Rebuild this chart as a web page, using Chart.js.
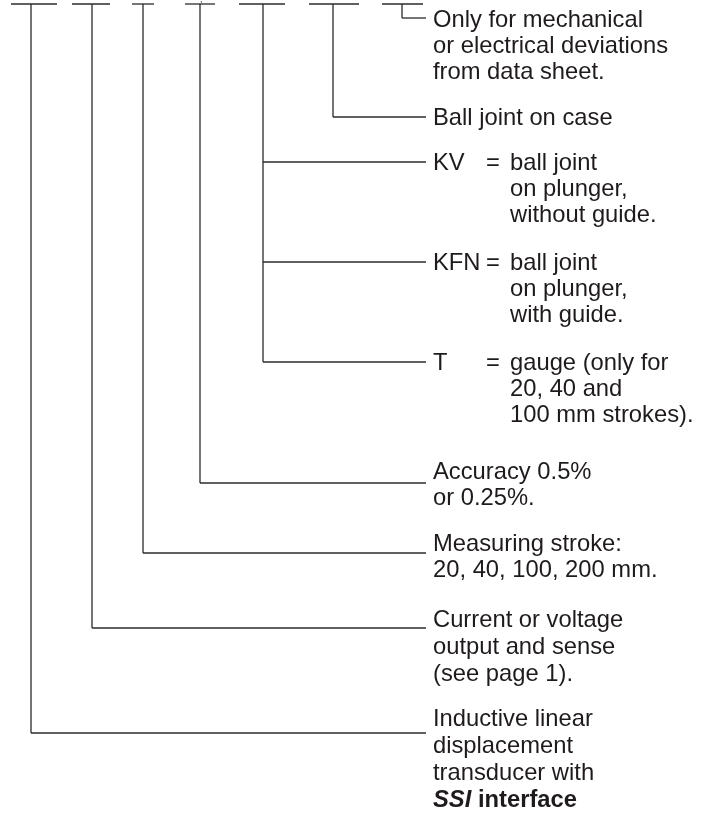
<!DOCTYPE html>
<html>
<head>
<meta charset="utf-8">
<script src="https://cdn.jsdelivr.net/npm/chart.js@4.4.0/dist/chart.umd.min.js"></script>
<style>
  html, body { margin: 0; padding: 0; background: #ffffff; }
  #wrap { width: 710px; height: 814px; position: relative; }
</style>
</head>
<body>
<div id="wrap"><canvas id="c"></canvas></div>
<script>
// ---- ordering-code fields (top row of blanks) ----
const codeStart = [11, 72, 132, 185, 239, 309, 382];
const codeEnd   = [57, 110, 154, 215, 285, 359, 423];
const stems     = [31, 92, 143, 200, 263, 333, 402];
const codeTop   = 4;

// ---- branches: which field, connector level, key, description ----
const branchStem  = [6, 5, 4, 4, 4, 3, 2, 1, 0];
const branchLevel = [18, 117, 162, 262, 362, 483, 553, 628, 733];
const branchBase  = [27, 125, 170, 270, 370, 479, 551, 627, 726];
const branchLead  = [26, 26, 26, 26, 26, 26, 26, 27, 27];
const branchKey   = ['', '', 'KV', 'KFN', 'T', '', '', '', ''];
const branchText  = [
  ['Only for mechanical', 'or electrical deviations', 'from data sheet.'],
  ['Ball joint on case'],
  ['ball joint', 'on plunger,', 'without guide.'],
  ['ball joint', 'on plunger,', 'with guide.'],
  ['gauge (only for', '20, 40 and', '100 mm strokes).'],
  ['Accuracy 0.5%', 'or 0.25%.'],
  ['Measuring stroke:', '20, 40, 100, 200 mm.'],
  ['Current or voltage', 'output and sense', '(see page 1).'],
  ['Inductive linear', 'displacement', 'transducer with', 'SSI interface']
];
const branchEnd = 426;
const textX = 433, eqX = 486, descX = 510;

// ---- build line datasets from the arrays ----
const ink = '#2b2b2b';
const datasets = [];
function seg(pts) {
  datasets.push({
    data: pts, showLine: true, pointRadius: 0, pointHoverRadius: 0,
    borderColor: ink, borderWidth: 1.3, fill: false, tension: 0
  });
}
codeStart.forEach((s, i) => seg([{x: s, y: codeTop}, {x: codeEnd[i], y: codeTop}]));
stems.forEach((sx, i) => {
  let lowest = codeTop;
  branchStem.forEach((b, j) => { if (b === i) lowest = Math.max(lowest, branchLevel[j]); });
  seg([{x: sx, y: codeTop}, {x: sx, y: lowest}]);
});
branchStem.forEach((b, j) => seg([{x: stems[b], y: branchLevel[j]}, {x: branchEnd, y: branchLevel[j]}]));

const FONT = '"Liberation Sans", Arial, Helvetica, sans-serif';
const SX = 0.99;
function txt(ctx, s, x, y, font) {
  ctx.save();
  ctx.font = font;
  ctx.translate(x, y);
  ctx.scale(SX, 1);
  ctx.fillText(s, 0, 0);
  const w = ctx.measureText(s).width * SX;
  ctx.restore();
  return w;
}

const labelPlugin = {
  id: 'labels',
  afterDatasetsDraw(chart) {
    const ctx = chart.ctx, xs = chart.scales.x, ys = chart.scales.y;
    ctx.save();
    ctx.fillStyle = '#1f1b1c';
    ctx.textBaseline = 'alphabetic';
    ctx.textAlign = 'left';
    const norm = '24px ' + FONT;
    // tiny mark above the fourth field
    txt(ctx, ',', xs.getPixelForValue(200), ys.getPixelForValue(2), '9px ' + FONT);
    branchText.forEach((lines, j) => {
      const key = branchKey[j];
      const x0 = xs.getPixelForValue(key ? descX : textX);
      if (key) {
        txt(ctx, key, xs.getPixelForValue(textX), ys.getPixelForValue(branchBase[j]), norm);
        txt(ctx, '=', xs.getPixelForValue(eqX), ys.getPixelForValue(branchBase[j]), norm);
      }
      lines.forEach((s, k) => {
        const y = ys.getPixelForValue(branchBase[j] + k * branchLead[j]);
        if (s === 'SSI interface') {
          const w = txt(ctx, 'SSI', x0, y, 'italic bold 24px ' + FONT);
          txt(ctx, ' interface', x0 + w, y, 'bold 24px ' + FONT);
        } else {
          txt(ctx, s, x0, y, norm);
        }
      });
    });
    ctx.restore();
  }
};

new Chart(document.getElementById('c'), {
  type: 'scatter',
  data: { datasets },
  options: {
    responsive: true,
    maintainAspectRatio: false,
    animation: false,
    layout: { padding: 0 },
    plugins: { legend: { display: false }, tooltip: { enabled: false } },
    scales: {
      x: { type: 'linear', min: 0, max: 710, display: false },
      y: { type: 'linear', min: 0, max: 814, reverse: true, display: false }
    }
  },
  plugins: [labelPlugin]
});
</script>
</body>
</html>
